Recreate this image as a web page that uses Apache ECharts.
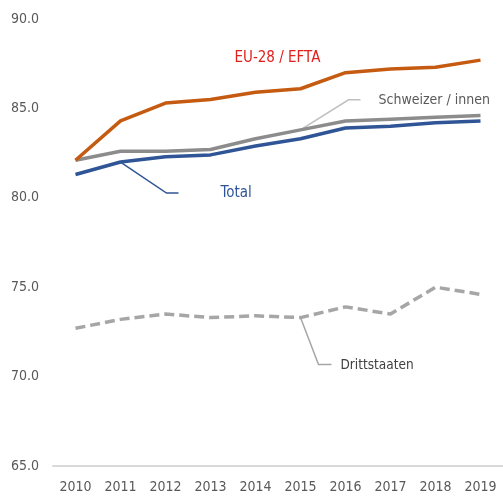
<!DOCTYPE html>
<html>
<head>
<meta charset="utf-8">
<script src="https://cdn.jsdelivr.net/npm/echarts@6/dist/echarts.min.js"></script>
<style>
  html, body { margin: 0; padding: 0; background: #fff; }
  #chart { width: 503px; height: 496px; }
</style>
</head>
<body>
<div id="chart"></div>
<script>
// 年份
const years = ['2010', '2011', '2012', '2013', '2014', '2015', '2016', '2017', '2018', '2019'];
// 各组数值
const euEfta = [82.1, 84.3, 85.3, 85.5, 85.9, 86.1, 87.0, 87.2, 87.3, 87.7];
const schweizer = [82.1, 82.6, 82.6, 82.7, 83.3, 83.8, 84.3, 84.4, 84.5, 84.6];
const total = [81.3, 82.0, 82.3, 82.4, 82.9, 83.3, 83.9, 84.0, 84.2, 84.3];
const drittstaaten = [72.7, 73.2, 73.5, 73.3, 73.4, 73.3, 73.9, 73.5, 75.0, 74.6];
const yTicks = [65, 70, 75, 80, 85, 90];

const font = '"DejaVu Sans Condensed", "Liberation Sans", sans-serif';

const chart = echarts.init(document.getElementById('chart'));

const lineSeries = (name, data, color, type) => ({
  name: name,
  type: 'line',
  data: data,
  symbol: 'none',
  animation: false,
  lineStyle: { color: color, width: 3.5, type: type || 'solid' }
});

chart.setOption({
  animation: false,
  grid: { left: 53, right: -7, top: 19, bottom: 30 },
  xAxis: {
    type: 'category',
    data: years,
    boundaryGap: true,
    axisLine: { lineStyle: { color: '#d9d9d9', width: 2 } },
    axisTick: { show: false },
    axisLabel: { color: '#595959', fontSize: 14, fontFamily: font, margin: 14 }
  },
  yAxis: {
    type: 'value',
    min: yTicks[0],
    max: yTicks[yTicks.length - 1],
    interval: 5,
    splitLine: { show: false },
    axisLine: { show: false },
    axisTick: { show: false },
    axisLabel: {
      color: '#595959', fontSize: 14, fontFamily: font, margin: 14,
      formatter: v => v.toFixed(1)
    }
  },
  series: [
    lineSeries('Drittstaaten', drittstaaten, '#a6a6a6', [10, 5]),
    lineSeries('Total', total, '#2f5597'),
    lineSeries('Schweizer / innen', schweizer, '#8c8c8c'),
    lineSeries('EU-28 / EFTA', euEfta, '#c55a11')
  ]
});

// 标注：引导线和文字，锚点取自数据点
const px = (i, v) => chart.convertToPixel({ gridIndex: 0 }, [years[i], v]);
const leader = (p, dx, dy, hx, color) => ({
  type: 'polyline',
  shape: { points: [p, [p[0] + dx, p[1] + dy], [p[0] + dx + hx, p[1] + dy]] },
  style: { stroke: color, lineWidth: 1.5, fill: null }
});
const label = (x, y, text, color, size) => ({
  type: 'text',
  x: x, y: y,
  style: { text: text, fill: color, font: size + 'px ' + font, textVerticalAlign: 'middle' }
});

const pTotal = px(1, total[1]);
const pSchw = px(5, schweizer[5]);
const pDritt = px(5, drittstaaten[5]);
const pEu = px(5, euEfta[5]);

chart.setOption({
  graphic: [
    leader(pTotal, 46, 31, 12, '#2f5597'),
    label(pTotal[0] + 100, pTotal[1] + 31, 'Total', '#2f5597', 15),
    leader(pSchw, 48, -30, 12, '#bfbfbf'),
    label(pSchw[0] + 78, pSchw[1] - 29, 'Schweizer / innen', '#595959', 14),
    leader(pDritt, 18, 47, 13, '#a6a6a6'),
    label(pDritt[0] + 40, pDritt[1] + 48, 'Drittstaaten', '#404040', 13.5),
    label(pEu[0] - 66, pEu[1] - 31, 'EU-28 / EFTA', '#e0201b', 15)
  ]
});
</script>
</body>
</html>
